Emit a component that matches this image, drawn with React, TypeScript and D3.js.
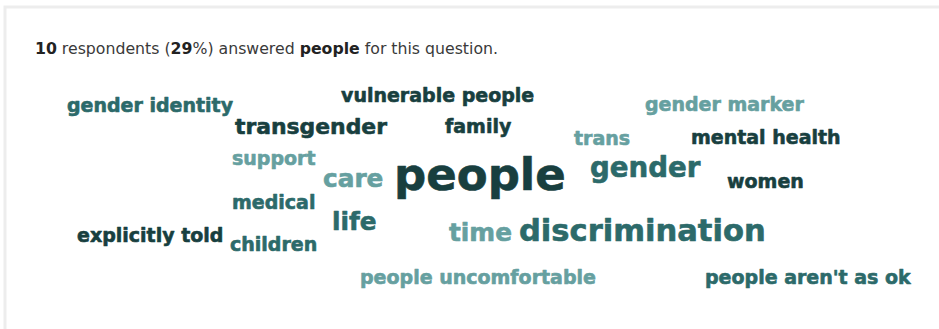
import React from "react";
import * as d3 from "d3";

const W = 939;
const H = 329;

const words = [
  "gender identity", "vulnerable people", "transgender", "family", "gender marker",
  "trans", "mental health", "support", "care", "people", "gender", "women",
  "medical", "life", "explicitly told", "children", "time", "discrimination",
  "people uncomfortable", "people aren't as ok",
];
const counts = [1, 1, 2, 1, 1, 1, 1, 1, 3, 10, 4, 1, 1, 3, 1, 1, 3, 5, 1, 1];
// colour tone: 0 dark, 1 medium, 2 light
const tones = [1, 0, 0, 0, 2, 2, 0, 2, 2, 0, 1, 0, 1, 1, 0, 1, 2, 1, 2, 1];
// layout (left x, baseline y) as produced by the cloud layout
const layoutX = [67, 341, 235, 445, 645, 574, 691, 232, 323, 394, 590, 727, 232, 332, 77, 230, 449, 519, 360, 705];
const layoutY = [112, 102, 134, 133, 111, 145, 144, 165, 187, 190, 177, 188, 209, 230, 242, 251, 241, 241, 284, 284];

const respondents = 10;
const share = 29;
const focusWord = "people";

const palette = ["#183f3f", "#2c6a6a", "#66a0a0"];

export default function App() {
  const size = d3.scaleLinear().domain([1, 10]).range([19, 45]);
  const color = d3.scaleOrdinal<number, string>().domain([0, 1, 2]).range(palette);
  return (
    <svg
      width={W}
      height={H}
      style={{ position: "absolute", left: 0, top: 0, background: "#fff" }}
      fontFamily="'DejaVu Sans', Verdana, sans-serif"
    >
      <rect x={5} y={7} width={W} height={H} fill="#fff" stroke="#ededed" strokeWidth={3} />
      <text x={35} y={54} fontSize={15} fill="#3a3a3a" textLength={463} lengthAdjust="spacingAndGlyphs">
        <tspan fontWeight="bold" fill="#222">{respondents}</tspan>
        <tspan> respondents (</tspan>
        <tspan fontWeight="bold" fill="#222">{share}</tspan>
        <tspan>%) answered </tspan>
        <tspan fontWeight="bold" fill="#222">{focusWord}</tspan>
        <tspan> for this question.</tspan>
      </text>
      {words.map((w, i) => (
        <text
          key={w}
          x={layoutX[i]}
          y={layoutY[i]}
          fontSize={size(counts[i])}
          fontWeight="bold"
          fill={color(tones[i])}
          stroke={color(tones[i])}
          strokeWidth={0.6}
          strokeLinejoin="round"
        >
          {w}
        </text>
      ))}
    </svg>
  );
}
